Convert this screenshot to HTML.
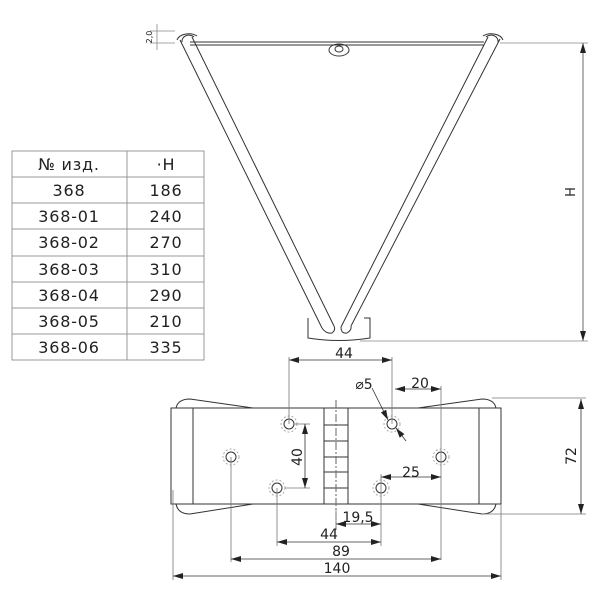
<!DOCTYPE html><html><head><style>body{margin:0;background:#fff}svg{display:block}text{font-family:"DejaVu Sans",sans-serif;fill:#222}</style></head><body>
<svg width="600" height="600" viewBox="0 0 600 600" xmlns="http://www.w3.org/2000/svg">
<defs><marker id="a" viewBox="0 0 10 6" refX="10" refY="3" markerWidth="10" markerHeight="6" orient="auto-start-reverse" markerUnits="userSpaceOnUse"><path d="M0,0L10,3L0,6z" fill="#222"/></marker></defs>
<g stroke="#999" stroke-width="1" fill="none">
<rect x="12" y="151" width="192" height="209"/>
<line x1="127" y1="151" x2="127" y2="360"/>
<line x1="12" y1="177" x2="204" y2="177"/><line x1="12" y1="203" x2="204" y2="203"/><line x1="12" y1="229" x2="204" y2="229"/><line x1="12" y1="256" x2="204" y2="256"/><line x1="12" y1="282" x2="204" y2="282"/><line x1="12" y1="308" x2="204" y2="308"/><line x1="12" y1="334" x2="204" y2="334"/>
</g>
<g font-size="16" text-anchor="middle" letter-spacing="0.8">
<text x="69" y="170">№ изд.</text><text x="166" y="170">·H</text>
<text x="69" y="196">368</text><text x="166" y="196">186</text>
<text x="69" y="222">368-01</text><text x="166" y="222">240</text>
<text x="69" y="248">368-02</text><text x="166" y="248">270</text>
<text x="69" y="275">368-03</text><text x="166" y="275">310</text>
<text x="69" y="301">368-04</text><text x="166" y="301">290</text>
<text x="69" y="327">368-05</text><text x="166" y="327">210</text>
<text x="69" y="353">368-06</text><text x="166" y="353">335</text>
</g>
<g stroke="#333" stroke-width="1" fill="none">
<line x1="190" y1="42" x2="484" y2="42"/><line x1="190" y1="45" x2="484" y2="45"/>
<path d="M177,40 A12,8 0 0 1 197,36"/><path d="M182,42 A7,6 0 0 1 194,37"/>
<path d="M483,36 A12,8 0 0 1 503,40"/><path d="M486,37 A7,6 0 0 1 498,42"/>
<ellipse cx="339" cy="50" rx="10" ry="6"/><ellipse cx="339" cy="49" rx="4" ry="3"/>
<path d="M180,40 L322,328 M192,37 L334,326"/>
<path d="M500,39 L351,326 M488,37 L341,327"/>
<path d="M308,318 L308,338 Q339,343 370,338 L370,318 L364,318"/>
<path d="M322,328 Q326,334 332,333 Q336,330 334,326"/>
<path d="M341,327 Q341,334 347,333 Q352,330 351,326"/>
</g>
<g stroke="#888" stroke-width="0.8" fill="none">
<line x1="500" y1="43" x2="588" y2="43"/><line x1="360" y1="341" x2="588" y2="341"/>
<line x1="583" y1="43" x2="583" y2="341" marker-start="url(#a)" marker-end="url(#a)" stroke="#444"/>
<line x1="150" y1="31" x2="175" y2="31"/><line x1="150" y1="43" x2="175" y2="43"/>
<line x1="157" y1="24" x2="157" y2="50"/>
</g>
<text font-size="13" transform="translate(575,192) rotate(-90)" text-anchor="middle">H</text>
<text font-size="8" transform="translate(152,37) rotate(-90)" text-anchor="middle">2,0</text>
<g stroke="#333" stroke-width="1" fill="none">
<rect x="171" y="408" width="330" height="96"/>
<line x1="193" y1="408" x2="193" y2="504"/><line x1="479" y1="408" x2="479" y2="504"/>
<rect x="324" y="408" width="24" height="96"/>
<path d="M324,425h24M324,441h24M324,457h24M324,472h24M324,488h24"/>
<path d="M176,408 Q178,399 190,399 L253,408"/>
<path d="M176,504 Q178,514 190,514 L253,504"/>
<path d="M496,408 Q494,399 482,399 L418,408"/>
<path d="M496,504 Q494,514 482,514 L418,504"/>
</g>
<line x1="336" y1="400" x2="336" y2="530" stroke="#666" stroke-dasharray="8,2,2,2"/>
<g stroke="#333" fill="none">
<circle cx="289" cy="424" r="5"/><circle cx="392" cy="424" r="5"/><circle cx="231" cy="457" r="5"/><circle cx="441" cy="457" r="5"/><circle cx="277" cy="488" r="5"/><circle cx="381" cy="488" r="5"/>
</g>
<g stroke="#aaa" stroke-dasharray="2,2" fill="none">
<circle cx="289" cy="424" r="8"/><circle cx="392" cy="424" r="8"/><circle cx="231" cy="457" r="8"/><circle cx="441" cy="457" r="8"/><circle cx="277" cy="488" r="8"/><circle cx="381" cy="488" r="8"/>
</g>
<g stroke="#777" stroke-width="0.8" fill="none">
<line x1="289" y1="357" x2="289" y2="424"/><line x1="392" y1="357" x2="392" y2="424"/>
<line x1="441" y1="386" x2="441" y2="560"/><line x1="231" y1="457" x2="231" y2="562"/>
<line x1="277" y1="488" x2="277" y2="546"/><line x1="381" y1="474" x2="381" y2="546"/>
<line x1="173" y1="490" x2="173" y2="580"/><line x1="501" y1="504" x2="501" y2="580"/>
<line x1="336" y1="510" x2="336" y2="528"/>
<line x1="492" y1="398" x2="586" y2="398"/><line x1="482" y1="514" x2="586" y2="514"/>
<line x1="295" y1="424" x2="310" y2="424"/><line x1="285" y1="488" x2="310" y2="488"/>
</g>
<g stroke="#333" stroke-width="0.8" fill="none">
<line x1="289" y1="360" x2="392" y2="360" marker-start="url(#a)" marker-end="url(#a)"/>
<line x1="395" y1="389" x2="441" y2="389" marker-start="url(#a)" marker-end="url(#a)"/>
<line x1="581" y1="399" x2="581" y2="514" marker-start="url(#a)" marker-end="url(#a)"/>
<line x1="305" y1="424" x2="305" y2="488" marker-start="url(#a)" marker-end="url(#a)"/>
<line x1="381" y1="477" x2="441" y2="477" marker-start="url(#a)" marker-end="url(#a)"/>
<line x1="336" y1="524" x2="381" y2="524" marker-start="url(#a)" marker-end="url(#a)"/>
<line x1="277" y1="542" x2="381" y2="542" marker-start="url(#a)" marker-end="url(#a)"/>
<line x1="231" y1="559" x2="441" y2="559" marker-start="url(#a)" marker-end="url(#a)"/>
<line x1="173" y1="576" x2="501" y2="576" marker-start="url(#a)" marker-end="url(#a)"/>
<line x1="372" y1="388" x2="388" y2="420" marker-end="url(#a)"/>
<line x1="396" y1="428" x2="406" y2="441" marker-start="url(#a)"/>
</g>
<g font-size="14" text-anchor="middle">
<text x="344" y="358">44</text><text x="364" y="389">⌀5</text><text x="420" y="388">20</text>
<text x="411" y="477">25</text><text x="358" y="522">19,5</text><text x="329" y="539">44</text>
<text x="341" y="556">89</text><text x="337" y="573">140</text>
<text transform="translate(302,457) rotate(-90)">40</text>
<text transform="translate(576,456) rotate(-90)">72</text>
</g>
</svg></body></html>
